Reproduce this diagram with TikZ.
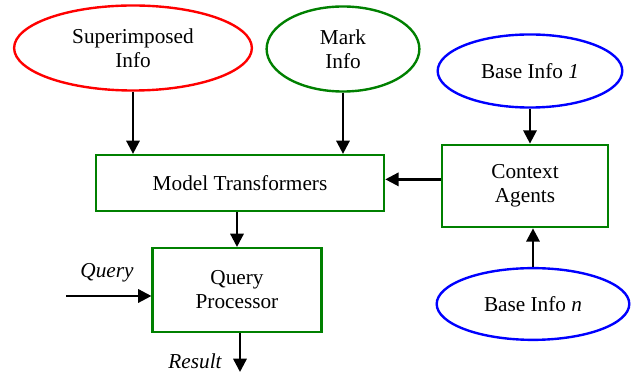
\documentclass[tikz,border=0pt]{standalone}
\usepackage{fontspec}
\setmainfont{Liberation Serif}
\usetikzlibrary{shapes.geometric,arrows.meta}
\definecolor{boxgreen}{RGB}{0,128,0}
\definecolor{infored}{RGB}{255,0,0}
\definecolor{infoblue}{RGB}{0,0,255}
\begin{document}
\begin{tikzpicture}[x=0.0264583cm,y=-0.0264583cm,
  info/.style={ellipse,line width=1.8pt,inner sep=0,align=center,font=\fontsize{16}{18}\selectfont},
  block/.style={rectangle,draw=boxgreen,line width=1.8pt,inner sep=0,align=center,font=\fontsize{16}{18}\selectfont},
  arr/.style={line width=1.8pt,-{Triangle[length=10pt,width=10pt]}},
  lbl/.style={inner sep=0,font=\fontsize{16}{18}\itshape}]
\useasboundingbox(0,0)rectangle(631,375);
%sources
\node[info,draw=infored,minimum width=179pt,minimum height=64pt](sup)at(133,48){Superimposed\\Info};
\node[info,draw=boxgreen,minimum width=115pt,minimum height=64pt](mark)at(343,49){Mark\\Info};
\node[info,draw=infoblue,minimum width=139pt,minimum height=55pt](b1)at(530,71){Base Info \textit{1}};
\node[info,draw=infoblue,minimum width=145pt,minimum height=54pt](bn)at(533,304){Base Info \textit{n}};
%blocks
\node[block,minimum width=217pt,minimum height=42pt](mt)at(240,183){Model Transformers};
\node[block,minimum width=125pt,minimum height=62pt](ca)at(525,186){Context\\Agents};
\node[block,minimum width=127pt,minimum height=63pt](qp)at(237,290){Query\\Processor};
%ends
\coordinate(qin)at(66,296);
\coordinate(res)at(240,372);
\node[lbl](ql)at(107,273){Query};
\node[lbl](rl)at(195,361){Result};
%arrows
\draw[arr](sup.south)--(sup.south|-mt.north);
\draw[arr](mark.south)--(mark.south|-mt.north);
\draw[arr](b1.south)--(b1.south|-ca.north);
\draw[arr](bn.north)--(bn.north|-ca.south);
\draw[arr]([yshift=5pt]ca.west)--([yshift=5pt]ca.west-|mt.east);
\draw[arr](mt.south-|qp.north)--(qp.north);
\draw[arr](qin)--(qin-|qp.west);
\draw[arr](qp.south-|res)--(res);
\end{tikzpicture}
\end{document}
